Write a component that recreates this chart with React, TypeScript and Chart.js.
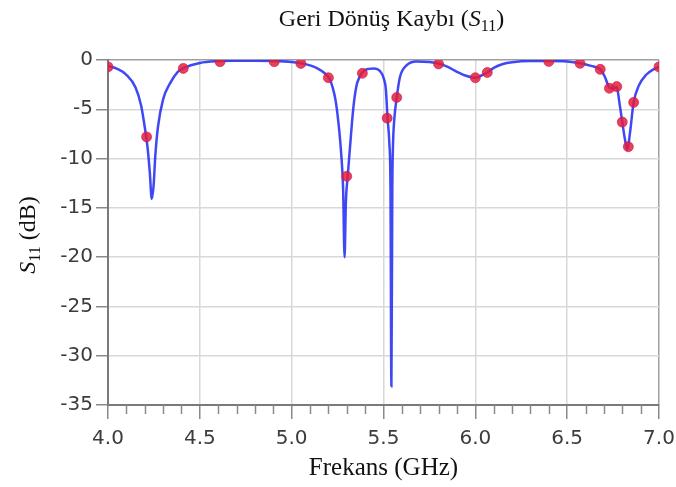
import React, { useEffect, useRef } from 'react';
import { Chart, registerables } from 'chart.js';

Chart.register(...registerables);

// Blue simulated S11 curve (GHz, dB)
const curveFreq = [
  4.0, 4.05, 4.1, 4.15, 4.18, 4.2, 4.215, 4.228, 4.238, 4.248, 4.258, 4.272, 4.3, 4.34, 4.38, 4.42,
  4.5, 4.6, 4.7, 4.8, 4.9, 5.0, 5.06, 5.1, 5.14, 5.18, 5.205, 5.225, 5.24, 5.255, 5.27, 5.28,
  5.288, 5.295, 5.305, 5.317, 5.335, 5.352, 5.37, 5.39, 5.42, 5.45, 5.48, 5.5, 5.513, 5.522,
  5.532, 5.538, 5.543, 5.548, 5.552, 5.558, 5.572, 5.59, 5.625, 5.68, 5.75, 5.8, 5.85, 5.9,
  5.95, 6.0, 6.03, 6.065, 6.1, 6.15, 6.2, 6.3, 6.4, 6.5, 6.57, 6.63, 6.68, 6.705, 6.73, 6.75,
  6.77, 6.785, 6.8, 6.815, 6.828, 6.842, 6.862, 6.89, 6.93, 6.97, 7.0,
];
const curveS11 = [
  -0.6, -0.9, -1.5, -2.8, -4.6, -6.8, -8.8, -11.5, -14.1, -12.8, -9.6, -6.8, -4.0, -2.3, -1.2, -0.75,
  -0.3, -0.12, -0.08, -0.07, -0.1, -0.2, -0.35, -0.55, -0.85, -1.35, -1.85, -2.9, -4.2, -6.4, -9.6, -13.0,
  -20.0, -14.5, -11.8, -9.0, -5.0, -2.7, -1.7, -1.15, -0.9, -0.85, -1.1, -1.8, -3.0, -5.9,
  -8.5, -13.0, -33.1, -13.0, -8.5, -6.2, -3.8, -1.7, -0.55, -0.15, -0.2, -0.35, -0.7, -1.2,
  -1.6, -1.8, -1.6, -1.27, -0.8, -0.4, -0.22, -0.1, -0.1, -0.15, -0.33, -0.6, -0.95, -1.7, -2.8, -2.9,
  -2.75, -4.4, -6.3, -8.1, -9.1, -7.4, -4.3, -2.6, -1.5, -0.95, -0.7,
];

// Red measured markers (GHz, dB)
const markerFreq = [
  4.0, 4.21, 4.41, 4.61, 4.905, 5.05, 5.2, 5.3, 5.385, 5.52, 5.572, 5.8, 6.0, 6.065, 6.4,
  6.57, 6.68, 6.73, 6.77, 6.8, 6.833, 6.862, 7.0,
];
const markerS11 = [
  -0.7, -7.8, -0.85, -0.17, -0.17, -0.35, -1.8, -11.8, -1.35, -5.9, -3.8, -0.4, -1.8, -1.27, -0.15,
  -0.34, -0.95, -2.87, -2.7, -6.3, -8.8, -4.3, -0.7,
];

const minorTickFreq = [
  4.1, 4.2, 4.3, 4.4, 4.6, 4.7, 4.8, 4.9, 5.1, 5.2, 5.3, 5.4, 5.6, 5.7, 5.8, 5.9,
  6.1, 6.2, 6.3, 6.4, 6.6, 6.7, 6.8, 6.9,
];

const titleMain = 'Geri Dönüş Kaybı (';
const xTitle = 'Frekans (GHz)';
const yTitleRest = ' (dB)';

const SERIF = '"Liberation Serif", "Times New Roman", serif';

type Part = { t: string; italic?: boolean; sub?: boolean };

function drawRich(ctx: CanvasRenderingContext2D, parts: Part[], cx: number, cy: number, size: number) {
  const fontFor = (p: Part) => `${p.italic ? 'italic ' : ''}${p.sub ? Math.round(size * 0.68) : size}px ${SERIF}`;
  let total = 0;
  const widths = parts.map((p) => {
    ctx.font = fontFor(p);
    const w = ctx.measureText(p.t).width;
    total += w;
    return w;
  });
  let x = cx - total / 2;
  ctx.textBaseline = 'alphabetic';
  ctx.textAlign = 'left';
  ctx.fillStyle = '#111';
  const base = cy + size * 0.33;
  parts.forEach((p, i) => {
    ctx.font = fontFor(p);
    ctx.fillText(p.t, x, p.sub ? base + size * 0.22 : base);
    x += widths[i];
  });
}

const decorPlugin = {
  id: 'decor',
  afterDraw(chart: any) {
    const ctx: CanvasRenderingContext2D = chart.ctx;
    const area = chart.chartArea;
    const xs = chart.scales.x;
    ctx.save();
    // minor ticks
    ctx.strokeStyle = '#8a8a8a';
    ctx.lineWidth = 1.5;
    minorTickFreq.forEach((v) => {
      const px = Math.round(xs.getPixelForValue(v)) + 0.5;
      ctx.beginPath();
      ctx.moveTo(px, area.bottom);
      ctx.lineTo(px, area.bottom + 9);
      ctx.stroke();
    });
    const cx = (area.left + area.right) / 2;
    drawRich(ctx, [{ t: titleMain }, { t: 'S', italic: true }, { t: '11', sub: true }, { t: ')' }], cx + 8, 18, 24);
    drawRich(ctx, [{ t: xTitle }], cx, 467, 25);
    ctx.translate(27, 235);
    ctx.rotate(-Math.PI / 2);
    drawRich(ctx, [{ t: 'S', italic: true }, { t: '11', sub: true }, { t: yTitleRest }], 0, 0, 24);
    ctx.restore();
  },
};

export default function App() {
  const ref = useRef<HTMLCanvasElement>(null);
  useEffect(() => {
    if (!ref.current) return;
    const chart = new Chart(ref.current, {
      type: 'scatter',
      data: {
        datasets: [
          {
            label: 'Ölçüm',
            data: markerFreq.map((f, i) => ({ x: f, y: markerS11[i] })),
            showLine: false,
            pointRadius: 5,
            pointHoverRadius: 5,
            pointBackgroundColor: 'rgba(228, 30, 60, 0.85)',
            pointBorderColor: 'rgba(200, 20, 90, 0.6)',
            pointBorderWidth: 1,
          },
          {
            label: 'Simülasyon',
            data: curveFreq.map((f, i) => ({ x: f, y: curveS11[i] })),
            showLine: true,
            pointRadius: 0,
            borderColor: 'rgba(30, 40, 245, 0.85)',
            borderWidth: 2.5,
            cubicInterpolationMode: 'monotone',
          },
        ],
      },
      options: {
        responsive: false,
        animation: false,
        layout: { padding: { top: 60, right: 17, bottom: 0, left: 0 } },
        plugins: { legend: { display: false }, tooltip: { enabled: false }, title: { display: false } },
        scales: {
          x: {
            type: 'linear',
            min: 4,
            max: 7,
            afterFit: (s: any) => { s.height = 82; s.paddingLeft = 0; s.paddingRight = 0; },
            ticks: {
              stepSize: 0.5,
              callback: (v: any) => Number(v).toFixed(1),
              font: { family: '"DejaVu Sans", sans-serif', size: 20 },
              color: '#3c3c3c',
              padding: 8,
              maxRotation: 0,
            },
            grid: {
              color: (c: any) => (c.tick && c.tick.value === 7 ? '#a0a0a0' : '#d8d8d8'),
              lineWidth: 1.5,
              tickLength: 14,
              tickColor: '#8a8a8a',
            },
            border: { color: '#7a7a7a', width: 2 },
          },
          y: {
            min: -35,
            max: 0,
            afterFit: (s: any) => { s.width = 108; s.paddingTop = 0; s.paddingBottom = 0; },
            ticks: {
              stepSize: 5,
              font: { family: '"DejaVu Sans", sans-serif', size: 20 },
              color: '#3c3c3c',
              padding: 3,
            },
            grid: {
              color: (c: any) => (c.tick && c.tick.value === 0 ? '#a0a0a0' : '#d8d8d8'),
              lineWidth: 1.5,
              tickLength: 12,
              tickColor: '#8a8a8a',
            },
            border: { color: '#7a7a7a', width: 2 },
          },
        },
      },
      plugins: [decorPlugin],
    } as any);
    return () => chart.destroy();
  }, []);
  return (
    <div style={{ position: 'fixed', left: 0, top: 0, width: 676, height: 487, background: '#fff' }}>
      <canvas ref={ref} width={676} height={487} style={{ width: 676, height: 487 }} />
    </div>
  );
}
